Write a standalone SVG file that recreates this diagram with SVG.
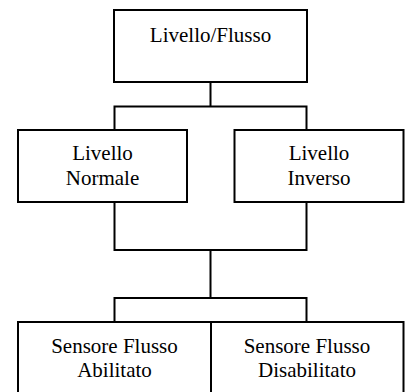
<svg xmlns="http://www.w3.org/2000/svg" width="406" height="392" viewBox="0 0 406 392">
  <style>
    .box { fill: #ffffff; stroke: #000000; stroke-width: 2; }
    .wire { fill: none; stroke: #000000; stroke-width: 2; }
    .label { font-family: "Times New Roman", Times, Tinos, "Liberation Serif", "Nimbus Roman", "DejaVu Serif", "Noto Serif", FreeSerif, serif; font-size: 21px; fill: #000000; text-anchor: middle; }
  </style>
  <rect width="406" height="392" fill="#ffffff"/>

  <g id="connectors">
    <path class="wire" d="M210.5 82 V106.5 M114.5 130 V106.5 H306.5 V130"/>
    <path class="wire" d="M114.5 202 V250 H306.5 V202 M210.5 250 V298 M114.5 322 V298 H306.5 V322"/>
  </g>

  <g id="livello-flusso">
    <rect class="box" x="114" y="10" width="193" height="72"/>
    <text class="label" x="210.5" y="42">Livello/Flusso</text>
  </g>

  <g id="livello-normale">
    <rect class="box" x="18" y="130" width="169" height="72"/>
    <text class="label" x="102.5" y="160">Livello</text>
    <text class="label" x="102.5" y="185">Normale</text>
  </g>

  <g id="livello-inverso">
    <rect class="box" x="234.5" y="130" width="169" height="72"/>
    <text class="label" x="319" y="160">Livello</text>
    <text class="label" x="319" y="185">Inverso</text>
  </g>

  <g id="sensore-abilitato">
    <rect class="box" x="18" y="322" width="193" height="80"/>
    <text class="label" x="114.5" y="353">Sensore Flusso</text>
    <text class="label" x="114.5" y="377">Abilitato</text>
  </g>

  <g id="sensore-disabilitato">
    <rect class="box" x="211" y="322" width="192.5" height="80"/>
    <text class="label" x="307" y="353">Sensore Flusso</text>
    <text class="label" x="307" y="377">Disabilitato</text>
  </g>
</svg>
